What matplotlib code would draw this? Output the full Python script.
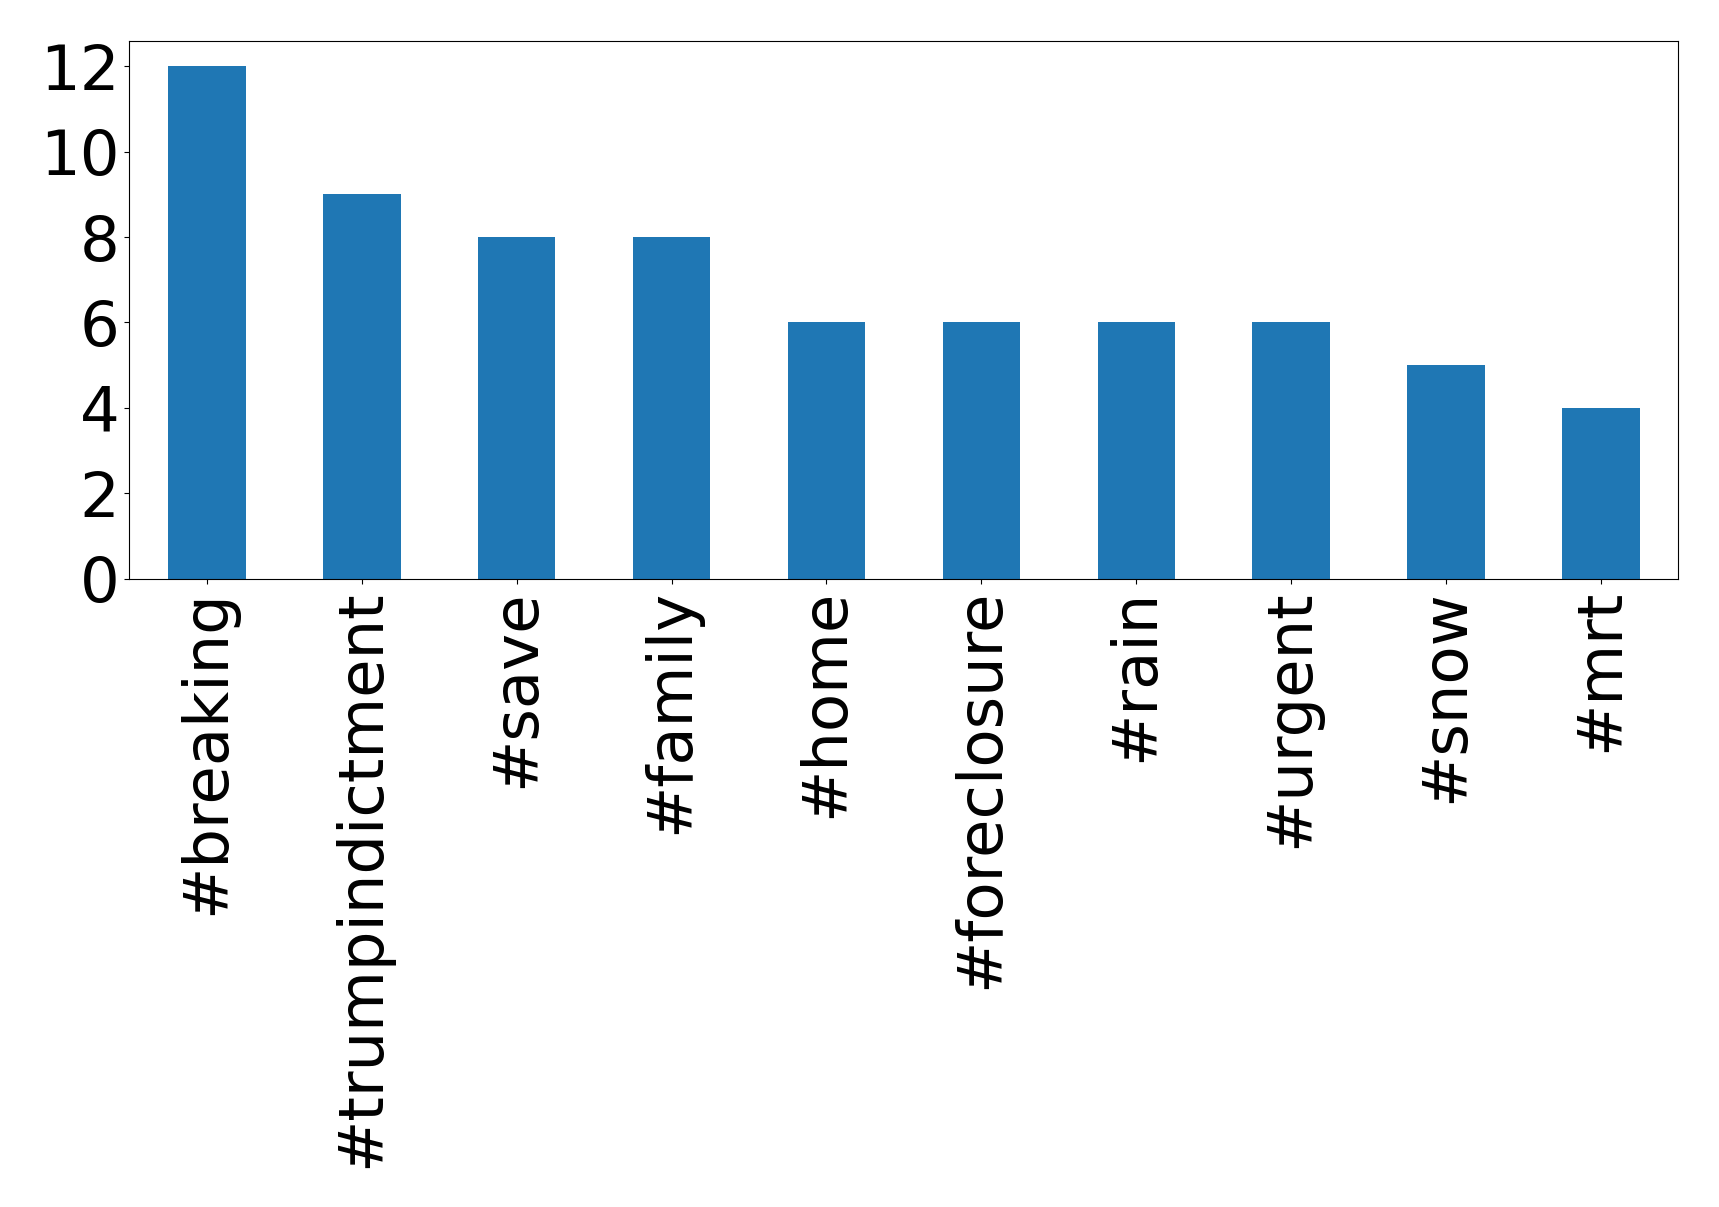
import numpy as np
import matplotlib
matplotlib.use('Agg')
import matplotlib.pyplot as plt

hashtags = ['#breaking', '#trumpindictment', '#save', '#family', '#home',
            '#foreclosure', '#rain', '#urgent', '#snow', '#mrt']
counts = [12, 9, 8, 8, 6, 6, 6, 6, 5, 4]

fig = plt.figure(figsize=(17.19, 12.07), dpi=100)
ax = fig.add_axes([0.0753, 0.5205, 0.9764 - 0.0753, 0.9664 - 0.5205])

x = np.arange(len(hashtags))
ax.bar(x, counts, width=0.5, color='#1f77b4')
ax.set_xlim(-0.5, len(hashtags) - 0.5)
ax.set_xticks(x)
ax.set_xticklabels(hashtags, rotation=90, fontsize=45)
ax.set_yticks(np.arange(0, 13, 2))
ax.tick_params(axis='y', labelsize=45)
ax.tick_params(length=3.8)

fig.savefig('out.png', dpi=100)
